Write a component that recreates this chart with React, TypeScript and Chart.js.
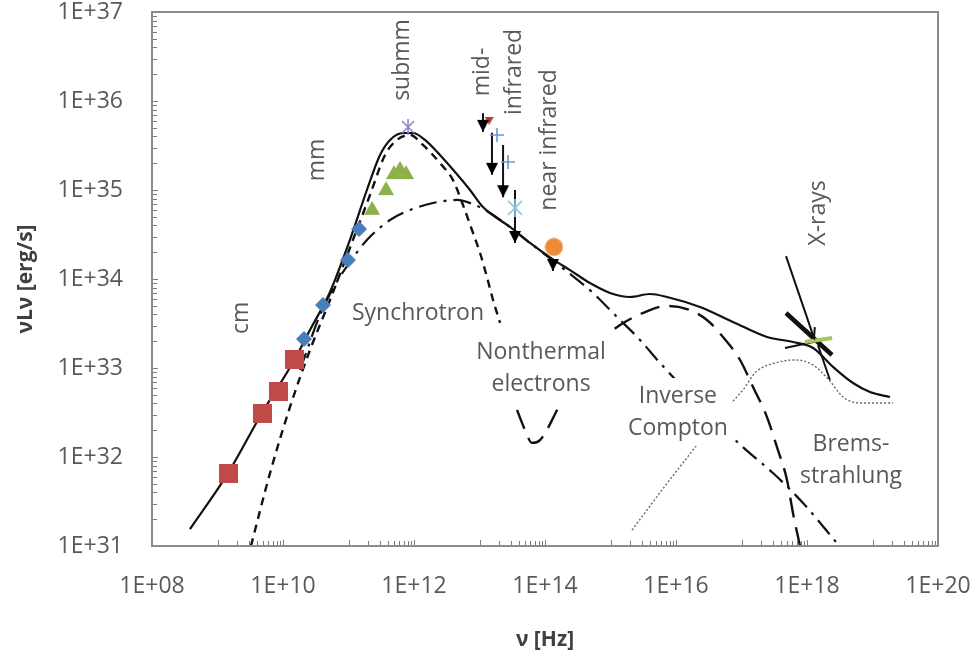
import React, { useEffect, useRef } from 'react';
import { Chart, registerables } from 'chart.js';

Chart.register(...registerables);

const FONT = '"Open Sans", "DejaVu Sans", sans-serif';

// ---- observed points (frequency in Hz, luminosity in erg/s) ----
const cmNu = [1.45e9, 4.78e9, 8.4e9, 1.52e10];
const cmL = [6.6e31, 3.12e32, 5.5e32, 1.26e33];

const mmNu = [2.09e10, 4.08e10, 9.8e10, 1.45e11];
const mmL = [2.12e33, 5.1e33, 1.63e34, 3.65e34];

const submmNu = [2.29e11, 3.74e11, 4.95e11, 6.1e11, 7.55e11];
const submmL = [6.3e34, 1.05e35, 1.59e35, 1.77e35, 1.59e35];

const starNu = [8.1e11];
const starL = [5.1e35];

// infrared upper limits: shaft top and arrow tip
const limNu = [1.13e13, 1.55e13, 2.29e13, 3.48e13, 1.32e14];
const limTop = [7.3e35, 4.4e35, 3.2e35, 1.0e35, 1.6e34];
const limTip = [4.5e35, 1.48e35, 8.3e34, 2.54e34, 1.23e34];

const plusNu = [1.85e13, 2.72e13];
const plusL = [4.15e35, 2.07e35];

const asterNu = [3.48e13];
const asterL = [6.3e34];

const redNu = [1.4e13];
const redL = [5.96e35];

const nirNu = [1.37e14];
const nirL = [2.29e34];

// X-ray constraints
const xArrowNu = [4.78e17, 1.28e18];
const xArrowL = [1.81e34, 2.17e33];
const xThickNu = [4.78e17, 2.41e18];
const xThickL = [4.15e33, 1.4e33];
const xThinNu = [4.61e17, 2.41e18];
const xThinL = [1.68e33, 2.17e33];
const xLowNu = [1.47e18, 2.24e18];
const xLowL = [1.81e33, 7.33e32];
const xGreenNu = [9.3e17, 2.41e18];
const xGreenL = [1.96e33, 2.17e33];

// ---- model curves ----
const totalNu = [3.8e8, 1.45e9, 4.78e9, 1.52e10, 2.58e10, 5.22e10, 1.05e11, 1.91e11, 3.03e11, 4.31e11, 6.79e11, 9.66e11, 1.47e12, 2.49e12, 4.23e12, 7.16e12, 1.13e13, 2.92e13, 5.9e13, 1.37e14, 2.41e14, 4.86e14, 9.82e14, 1.99e15, 4.01e15, 7.3e15, 2.32e16, 7.41e16, 2.45e17, 6.11e17, 1.24e18, 2.49e18, 5.04e18, 9.16e18, 1.85e19];
const totalL = [1.55e31, 6.6e31, 3.12e32, 1.26e33, 2.67e33, 7.14e33, 2.74e34, 1.0e35, 2.47e35, 3.65e35, 4.37e35, 4.37e35, 3.65e35, 2.47e35, 1.59e35, 1.0e35, 6.44e34, 3.84e34, 2.54e34, 1.63e34, 1.26e34, 9.0e33, 6.97e33, 6.28e33, 6.78e33, 6.28e33, 4.84e33, 3.29e33, 2.23e33, 1.96e33, 1.68e33, 1.03e33, 6.78e32, 5.37e32, 4.72e32];

const synNu = [3.24e9, 6.34e9, 1.28e10, 2.58e10, 5.22e10, 1.05e11, 2.13e11, 3.61e11, 5.5e11, 8.69e11, 1.37e12, 2.49e12, 3.94e12, 5.6e12, 7.96e12, 1.02e13, 1.3e13, 1.61e13, 2.06e13];
const synL = [1e31, 6.6e31, 3.65e32, 1.59e33, 5.81e33, 2.23e34, 8.79e34, 2.47e35, 3.65e35, 4.15e35, 3.21e35, 2.01e35, 1.29e35, 6.78e34, 3.29e34, 1.96e34, 1.05e34, 5.81e33, 3.21e33];

const nthNu = [1.82e10, 3.67e10, 6.22e10, 1.05e11, 1.91e11, 4.31e11, 8.69e11, 1.95e12, 4.53e12, 8.53e12, 1.45e13, 2.92e13, 5.9e13, 1.42e14, 2.87e14, 5.41e14, 1.26e15, 2.82e15, 5.7e15, 2.32e16, 1.05e17, 3.03e17, 8.69e17, 2.77e18];
const nthL = [9.5e32, 3.94e33, 8.57e33, 1.55e34, 2.74e34, 4.6e34, 5.96e34, 7.14e34, 7.73e34, 6.78e34, 5.52e34, 3.84e34, 2.54e34, 1.55e34, 1.03e34, 6.97e33, 3.74e33, 2.07e33, 1.14e33, 3.84e32, 1.29e32, 6.6e31, 3.04e31, 1.11e31];

const icNu = [3.74e13, 4.95e13, 6.34e13, 8.4e13, 1.69e14, 3.42e14, 8.24e14, 1.4e15, 3.13e15, 7.3e15, 1.47e16, 2.97e16, 5.22e16, 9.5e16, 1.5e17, 2.45e17, 3.48e17, 4.95e17, 6.11e17, 7.82e17];
const icL = [3.37e32, 2.01e32, 1.44e32, 1.55e32, 3.84e32, 9.0e32, 2.23e33, 3.04e33, 4.15e33, 4.98e33, 4.6e33, 3.46e33, 2.23e33, 1.23e33, 6.12e32, 2.81e32, 1.29e32, 5.52e31, 2.35e31, 1e31];

const bremNu = [2.13e15, 6.11e15, 1.82e16, 4.7e16, 1.05e17, 1.66e17, 3.74e17, 6.79e17, 1.24e18, 2.17e18, 3.55e18, 6.22e18, 2.06e19];
const bremL = [1.51e31, 4.26e31, 1.2e32, 2.96e32, 5.66e32, 9.0e32, 1.17e33, 1.23e33, 1.08e33, 7.33e32, 4.72e32, 4.05e32, 4.05e32];

// ---- axis ticks ----
const xTickValues = [1e8, 1e10, 1e12, 1e14, 1e16, 1e18, 1e20];
const yTickValues = [1e31, 1e32, 1e33, 1e34, 1e35, 1e36, 1e37];

// ---- text annotations ----
const notes = [
  { lines: ['cm'], nu: 2.29e9, L: 3.65e33, rot: true },
  { lines: ['mm'], nu: 3.3e10, L: 2.17e35, rot: true },
  { lines: ['submm'], nu: 6.56e11, L: 2.89e36, rot: true },
  { lines: ['mid-', 'infrared'], nu: 1.92e13, L: 2.12e36, rot: true },
  { lines: ['near infrared'], nu: 1.19e14, L: 3.65e35, rot: true },
  { lines: ['X-rays'], nu: 1.52e18, L: 5.52e34, rot: true },
  { lines: ['Synchrotron'], nu: 1.15e12, L: 4.15e33 },
  { lines: ['Nonthermal', 'electrons'], nu: 8.7e13, L: 1e33, bg: true },
  { lines: ['Inverse', 'Compton'], nu: 1.07e16, L: 3.2e32, bg: true },
  { lines: ['Brems-', 'strahlung'], nu: 4.7e18, L: 9.25e31 },
];

const pts = (xs: number[], ys: number[]) => xs.map((x, i) => ({ x, y: ys[i] }));

const fmtExp = (v: number) => {
  const e = Math.round(Math.log10(v));
  return `1E+${String(e).padStart(2, '0')}`;
};

function mk(w: number, h: number, draw: (g: CanvasRenderingContext2D) => void) {
  const c = document.createElement('canvas');
  c.width = w;
  c.height = h;
  draw(c.getContext('2d')!);
  return c;
}

function buildMarkers() {
  const square = mk(19, 19, (g) => {
    g.fillStyle = '#bf4a47';
    g.fillRect(0, 0, 19, 19);
  });
  const diamond = mk(16, 16, (g) => {
    g.fillStyle = '#4a7dbb';
    g.beginPath();
    g.moveTo(8, 0); g.lineTo(16, 8); g.lineTo(8, 16); g.lineTo(0, 8);
    g.closePath();
    g.fill();
  });
  const tri = mk(16, 16, (g) => {
    g.fillStyle = '#8db04b';
    g.beginPath();
    g.moveTo(8, 1); g.lineTo(16, 15); g.lineTo(0, 15);
    g.closePath();
    g.fill();
  });
  const circle = mk(19, 19, (g) => {
    g.fillStyle = '#ee8a38';
    g.beginPath();
    g.arc(9.5, 9.5, 9, 0, Math.PI * 2);
    g.fill();
  });
  // arrow head whose tip sits at the canvas centre
  const head = mk(12, 26, (g) => {
    g.fillStyle = '#000';
    g.beginPath();
    g.moveTo(0, 1); g.lineTo(12, 1); g.lineTo(6, 13);
    g.closePath();
    g.fill();
  });
  const star = mk(16, 16, (g) => {
    g.strokeStyle = '#8b89c2';
    g.lineWidth = 1.6;
    g.beginPath();
    g.moveTo(2, 2); g.lineTo(14, 14);
    g.moveTo(14, 2); g.lineTo(2, 14);
    g.moveTo(8, 0); g.lineTo(8, 16);
    g.stroke();
  });
  const plus = mk(14, 14, (g) => {
    g.strokeStyle = '#6b98cf';
    g.lineWidth = 1.6;
    g.beginPath();
    g.moveTo(0, 7); g.lineTo(14, 7);
    g.moveTo(7, 0); g.lineTo(7, 14);
    g.stroke();
  });
  const aster = mk(18, 18, (g) => {
    g.strokeStyle = '#86c2de';
    g.lineWidth = 1.7;
    g.beginPath();
    g.moveTo(2, 2); g.lineTo(16, 16);
    g.moveTo(16, 2); g.lineTo(2, 16);
    g.moveTo(9, 0); g.lineTo(9, 18);
    g.stroke();
  });
  const red = mk(9, 8, (g) => {
    g.fillStyle = '#c0392f';
    g.beginPath();
    g.moveTo(0, 0); g.lineTo(9, 0); g.lineTo(4.5, 8);
    g.closePath();
    g.fill();
  });
  return { square, diamond, tri, circle, head, star, plus, aster, red };
}

const frameTicks = {
  id: 'frameTicks',
  afterDatasetsDraw(chart: any) {
    const { ctx, chartArea: a, scales } = chart;
    const xs = scales.x;
    const ys = scales.y;
    ctx.save();
    ctx.strokeStyle = '#7a7a7a';
    ctx.lineWidth = 1;
    ctx.beginPath();
    for (let e = 31; e <= 37; e++) {
      for (let k = 1; k <= 9; k++) {
        const v = k * Math.pow(10, e);
        if (v > 1.0001e37) break;
        const y = Math.round(ys.getPixelForValue(v)) + 0.5;
        ctx.moveTo(a.left, y);
        ctx.lineTo(a.left + (k === 1 ? 6 : 5), y);
      }
    }
    for (let e = 8; e <= 20; e++) {
      for (let k = 1; k <= 9; k++) {
        if (e % 2 === 0 && k > 1) break;
        const v = k * Math.pow(10, e);
        if (v > 1.0001e20) break;
        const x = Math.round(xs.getPixelForValue(v)) + 0.5;
        ctx.moveTo(x, a.bottom);
        ctx.lineTo(x, a.bottom - (k === 1 ? 6 : 5));
      }
    }
    ctx.stroke();
    ctx.strokeStyle = '#8c8c8c';
    ctx.lineWidth = 2;
    ctx.strokeRect(a.left, a.top, a.right - a.left, a.bottom - a.top);
    ctx.restore();
  },
};

const arrowEnds = {
  id: 'arrowEnds',
  afterDatasetsDraw(chart: any) {
    const ctx = chart.ctx;
    chart.data.datasets.forEach((ds: any, i: number) => {
      if (!ds.arrowEnd) return;
      const pts = chart.getDatasetMeta(i).data;
      const p1 = pts[pts.length - 2];
      const p2 = pts[pts.length - 1];
      const ang = Math.atan2(p2.y - p1.y, p2.x - p1.x);
      const len = 11;
      ctx.save();
      ctx.strokeStyle = '#111';
      ctx.lineWidth = 2;
      ctx.beginPath();
      ctx.moveTo(p2.x - len * Math.cos(ang - 0.4), p2.y - len * Math.sin(ang - 0.4));
      ctx.lineTo(p2.x, p2.y);
      ctx.lineTo(p2.x - len * Math.cos(ang + 0.4), p2.y - len * Math.sin(ang + 0.4));
      ctx.stroke();
      ctx.restore();
    });
  },
};

const noteLabels = {
  id: 'noteLabels',
  afterDatasetsDraw(chart: any) {
    const { ctx, scales } = chart;
    const lh = 32;
    ctx.save();
    ctx.font = `23px ${FONT}`;
    ctx.textAlign = 'center';
    ctx.textBaseline = 'middle';
    notes.forEach((n) => {
      const px = scales.x.getPixelForValue(n.nu);
      const py = scales.y.getPixelForValue(n.L);
      ctx.save();
      ctx.translate(px, py);
      if (n.rot) ctx.rotate(-Math.PI / 2);
      const h = n.lines.length * lh;
      if (n.bg) {
        const w = Math.max(...n.lines.map((s) => ctx.measureText(s).width));
        ctx.fillStyle = '#fff';
        ctx.fillRect(-w / 2 - 4, -h / 2 - 2, w + 8, h + 4);
      }
      ctx.fillStyle = '#595959';
      n.lines.forEach((s, i) => {
        ctx.fillText(s, 0, (i - (n.lines.length - 1) / 2) * lh);
      });
      ctx.restore();
    });
    ctx.restore();
  },
};

const axisTitles = {
  id: 'axisTitles',
  afterDraw(chart: any) {
    const { ctx, chartArea: a } = chart;
    ctx.save();
    ctx.fillStyle = '#404040';
    ctx.font = `bold 21px ${FONT}`;
    ctx.textAlign = 'center';
    ctx.textBaseline = 'middle';
    ctx.fillText('ν [Hz]', (a.left + a.right) / 2, chart.height - 20);
    ctx.translate(26, (a.top + a.bottom) / 2);
    ctx.rotate(-Math.PI / 2);
    ctx.fillText('νLν [erg/s]', 0, 0);
    ctx.restore();
  },
};

export default function App() {
  const ref = useRef<HTMLCanvasElement>(null);

  useEffect(() => {
    const canvas = ref.current;
    if (!canvas) return;
    const m = buildMarkers();

    const marker = (data: any, style: any) => ({
      data,
      showLine: false,
      pointStyle: style,
      pointRadius: 6,
      pointHoverRadius: 6,
    });
    const curve = (data: any, dash: number[], width = 2, color = '#111') => ({
      data,
      borderColor: color,
      borderWidth: width,
      borderDash: dash,
      pointRadius: 0,
      pointHoverRadius: 0,
      fill: false,
      cubicInterpolationMode: 'monotone',
    });

    const shafts: any[] = [];
    limNu.forEach((nu, i) => {
      shafts.push({ x: nu, y: limTop[i] }, { x: nu, y: limTip[i] }, { x: nu, y: null });
    });

    // the label offset is carried by the (invisible) tick marks so that it
    // does not add extra padding around the plot area
    const hiddenGrid = { display: false, drawTicks: true, tickLength: 29 };

    const chart = new Chart(canvas, {
      type: 'line',
      data: {
        datasets: [
          marker(pts(nirNu, nirL), m.circle),
          marker(pts(limNu, limTip), m.head),
          marker(pts(asterNu, asterL), m.aster),
          marker(pts(plusNu, plusL), m.plus),
          marker(pts(redNu, redL), m.red),
          marker(pts(starNu, starL), m.star),
          marker(pts(submmNu, submmL), m.tri),
          marker(pts(mmNu, mmL), m.diamond),
          marker(pts(cmNu, cmL), m.square),
          { ...curve(shafts, [], 2), cubicInterpolationMode: 'default', tension: 0 },
          { ...curve(pts(xGreenNu, xGreenL), [], 4, '#a9c462'), tension: 0 },
          { ...curve(pts(xArrowNu, xArrowL), [], 2), arrowEnd: true },
          curve(pts(xThickNu, xThickL), [], 4.5),
          curve(pts(xThinNu, xThinL), [], 2),
          curve(pts(xLowNu, xLowL), [], 2),
          curve(pts(totalNu, totalL), [], 2.2),
          curve(pts(synNu, synL), [8, 6], 2.4),
          curve(pts(nthNu, nthL), [18, 7, 3, 7], 2.2),
          curve(pts(icNu, icL), [20, 10], 2.4),
          curve(pts(bremNu, bremL), [2, 2], 1.4, '#666'),
        ] as any,
      },
      options: {
        responsive: false,
        devicePixelRatio: 1,
        animation: false,
        events: [],
        layout: { padding: { top: 12, right: 38, bottom: 0, left: 0 } },
        plugins: { legend: { display: false }, tooltip: { enabled: false } },
        scales: {
          x: {
            type: 'logarithmic',
            min: 1e8,
            max: 1e20,
            grid: hiddenGrid,
            border: { display: false },
            afterBuildTicks: (s: any) => {
              s.ticks = xTickValues.map((value) => ({ value }));
            },
            afterFit: (s: any) => {
              s.height = 114;
            },
            ticks: {
              autoSkip: false,
              maxRotation: 0,
              padding: 0,
              color: '#595959',
              font: { family: FONT, size: 23, lineHeight: 1 },
              callback: (v: any) => fmtExp(Number(v)),
            },
          },
          y: {
            type: 'logarithmic',
            min: 1e31,
            max: 1e37,
            grid: hiddenGrid,
            border: { display: false },
            afterBuildTicks: (s: any) => {
              s.ticks = yTickValues.map((value) => ({ value }));
            },
            afterFit: (s: any) => {
              s.width = 152;
            },
            ticks: {
              autoSkip: false,
              padding: 0,
              color: '#595959',
              font: { family: FONT, size: 23, lineHeight: 1 },
              callback: (v: any) => fmtExp(Number(v)),
            },
          },
        },
      } as any,
      plugins: [frameTicks, arrowEnds, noteLabels, axisTitles],
    });

    return () => chart.destroy();
  }, []);

  return (
    <div style={{ position: 'fixed', left: 0, top: 0, width: 976, height: 660, background: '#fff' }}>
      <canvas ref={ref} width={976} height={660} style={{ display: 'block', width: 976, height: 660 }} />
    </div>
  );
}
